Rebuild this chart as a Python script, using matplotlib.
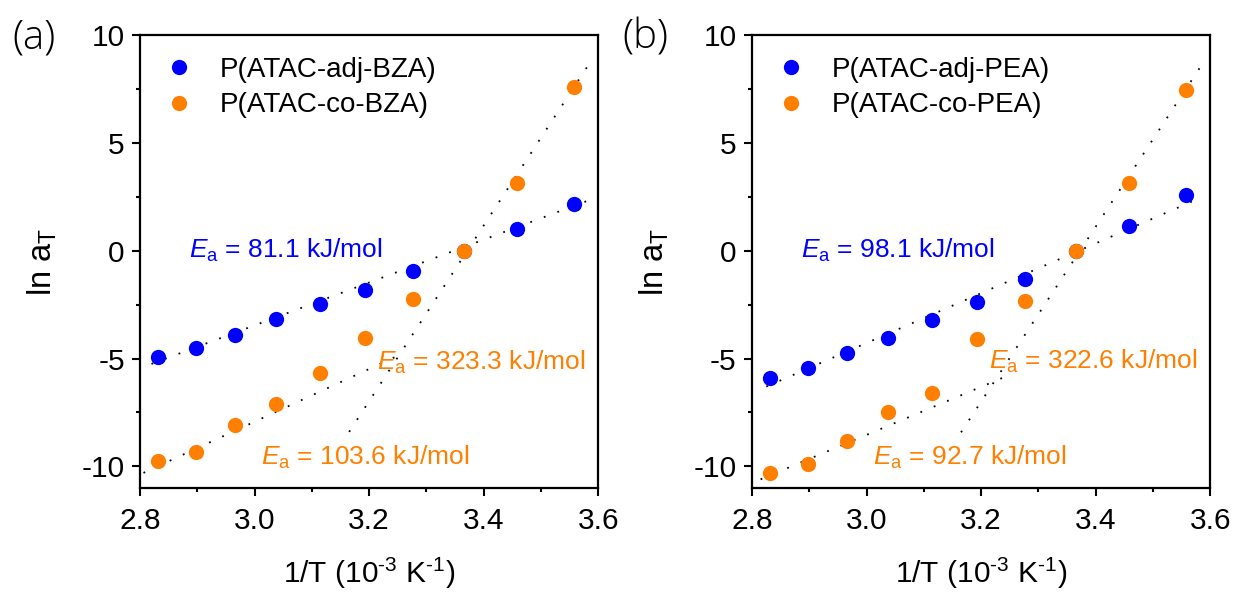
import numpy as np
import matplotlib
matplotlib.use("Agg")
import matplotlib.pyplot as plt
from matplotlib.ticker import MultipleLocator

plt.rcParams['font.family'] = ['Liberation Sans', 'DejaVu Sans']
plt.rcParams['mathtext.fontset'] = 'custom'
plt.rcParams['mathtext.rm'] = 'Liberation Sans'
plt.rcParams['mathtext.it'] = 'Liberation Sans:italic'

# 1/T values (10^-3 K^-1)
inv_T = [2.832, 2.897, 2.966, 3.038, 3.114, 3.193, 3.277, 3.365, 3.458, 3.557]

# panel (a)
adj_bza = [-4.92, -4.49, -3.92, -3.15, -2.45, -1.80, -0.93, 0.0, 1.00, 2.16]
co_bza = [-9.74, -9.34, -8.08, -7.10, -5.66, -4.03, -2.25, 0.0, 3.12, 7.57]

# panel (b)
adj_pea = [-5.91, -5.42, -4.75, -4.06, -3.23, -2.37, -1.31, 0.0, 1.13, 2.60]
co_pea = [-10.29, -9.91, -8.82, -7.49, -6.62, -4.08, -2.31, 0.0, 3.12, 7.45]

# dotted fit lines (end points)
fit_a = {"adj": ([2.82, 3.58], [-5.25, 2.30]),
         "co_low": ([2.806, 3.26], [-10.3, -4.75]),
         "co_high": ([3.165, 3.59], [-8.4, 8.9])}
fit_b = {"adj": ([2.825, 3.57], [-6.3, 2.3]),
         "co_low": ([2.815, 3.255], [-10.6, -5.7]),
         "co_high": ([3.165, 3.593], [-8.42, 8.93])}

labels_a = ["P(ATAC-adj-BZA)", "P(ATAC-co-BZA)"]
labels_b = ["P(ATAC-adj-PEA)", "P(ATAC-co-PEA)"]

ea_a = [("81.1", 2.886, 0.0, "blue"), ("323.3", 3.214, -5.2, "orange"), ("103.6", 3.012, -9.6, "orange")]
ea_b = [("98.1", 2.885, 0.0, "blue"), ("322.6", 3.214, -5.15, "orange"), ("92.7", 3.011, -9.6, "orange")]

BLUE = "#0000FF"
ORANGE = "#FF7F00"

fig = plt.figure(figsize=(12.35, 5.94), dpi=100)
ax1 = fig.add_axes([0.1134, 0.1785, 0.371, 0.7626])
ax2 = fig.add_axes([0.6089, 0.1785, 0.371, 0.7626])


def draw(ax, adj, co, fits, labels, eas, tag):
    for k in fits:
        ax.plot(fits[k][0], fits[k][1], color="black", lw=1.3, linestyle=(0, (1, 7)), zorder=1)
    ax.plot(inv_T, adj, "o", color=BLUE, ms=11, mec="none", label=labels[0], zorder=2)
    ax.plot(inv_T, co, "o", color=ORANGE, ms=11, mec="none", label=labels[1], zorder=3)
    ax.set_xlim(2.8, 3.6)
    ax.set_ylim(-11, 10)
    ax.xaxis.set_minor_locator(MultipleLocator(0.1))
    ax.yaxis.set_minor_locator(MultipleLocator(2.5))
    ax.tick_params(which="both", direction="out", width=1.5, labelsize=21.5, top=False, right=False)
    ax.tick_params(axis="x", which="both", pad=8)
    ax.tick_params(axis="y", which="both", pad=5)
    ax.tick_params(which="major", length=6)
    ax.tick_params(which="minor", length=3)
    ax.set_xticks([2.8, 3.0, 3.2, 3.4, 3.6])
    ax.set_xticklabels(["2.8", "3.0", "3.2", "3.4", "3.6"])
    ax.set_yticks([-10, -5, 0, 5, 10])
    ax.set_yticklabels(["-10", "-5", "0", "5", "10"])
    for s in ax.spines.values():
        s.set_linewidth(1.6)
    ax.set_xlabel("1/T (10$^{\\mathregular{\u2010}3}$ K$^{\\mathregular{\u2010}1}$)", fontsize=21.5, labelpad=15)
    ax.set_ylabel("ln a$_{\\mathregular{T}}$", fontsize=23.5, labelpad=16)
    ax.legend(loc="upper left", bbox_to_anchor=(0.055, 0.952), frameon=False, fontsize=20,
              handlelength=1.0, handletextpad=0.97, borderpad=0, borderaxespad=0,
              labelspacing=0.35, markerscale=1.0)
    for val, x, y, c in eas:
        col = BLUE if c == "blue" else ORANGE
        ax.text(x, y, "$\\mathit{E}_{\\mathregular{a}}$ = " + val + " kJ/mol", color=col,
                fontsize=19, ha="left", va="center")
    ax.text(-0.232, 0.993, tag, transform=ax.transAxes, fontsize=29, ha="center", va="center",
            family=["Open Sans", "DejaVu Sans"], fontweight="light")


draw(ax1, adj_bza, co_bza, fit_a, labels_a, ea_a, "(a)")
draw(ax2, adj_pea, co_pea, fit_b, labels_b, ea_b, "(b)")

fig.savefig("out.png", dpi=100)
